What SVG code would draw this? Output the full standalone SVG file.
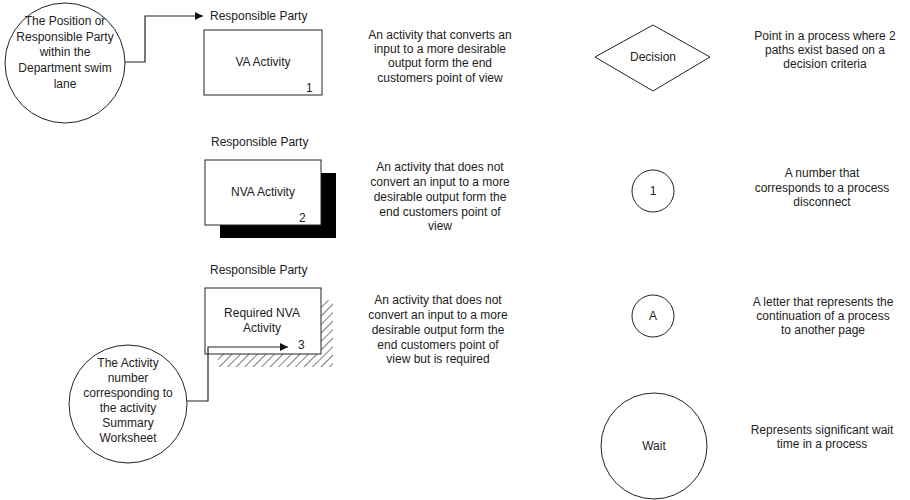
<svg xmlns="http://www.w3.org/2000/svg" width="910" height="500" viewBox="0 0 910 500">
  <style>
    text { font-family: "Liberation Sans", Arial, sans-serif; font-size: 12px; fill: #222; }
    .c { text-anchor: middle; }
    .shape { fill: #fff; stroke: #222; stroke-width: 1; }
    .wire { fill: none; stroke: #222; stroke-width: 1.2; }
  </style>
  <defs>
    <marker id="arrow" viewBox="0 0 10 10" refX="10" refY="5" markerWidth="10" markerHeight="8" markerUnits="userSpaceOnUse" orient="auto">
      <path d="M0,0 L10,5 L0,10 z" fill="#111"/>
    </marker>
    <pattern id="hatch" patternUnits="userSpaceOnUse" width="6" height="6" patternTransform="rotate(45)">
      <line x1="0" y1="0" x2="0" y2="6" stroke="#222" stroke-width="1.2"/>
    </pattern>
  </defs>

  <!-- Responsible party callout -->
  <g id="party-note">
    <circle class="shape" cx="65" cy="63" r="60"/>
    <text class="c" x="65" y="25">The Position or</text>
    <text class="c" x="65" y="41">Responsible Party</text>
    <text class="c" x="65" y="56">within the</text>
    <text class="c" x="65" y="72">Department swim</text>
    <text class="c" x="65" y="88">lane</text>
  </g>

  <!-- VA activity -->
  <g id="va-activity">
    <text x="210" y="20">Responsible Party</text>
    <rect class="shape" x="204" y="30" width="118" height="65"/>
    <text class="c" x="263" y="66">VA Activity</text>
    <text x="306" y="92">1</text>
  </g>
  <g id="va-desc">
    <text class="c" x="440" y="39">An activity that converts an</text>
    <text class="c" x="440" y="53">input to a more desirable</text>
    <text class="c" x="440" y="67">output form the end</text>
    <text class="c" x="440" y="82">customers point of view</text>
  </g>

  <!-- NVA activity -->
  <g id="nva-activity">
    <text x="211" y="146">Responsible Party</text>
    <rect x="220" y="173" width="116" height="65" fill="#000"/>
    <rect class="shape" x="205" y="160" width="116" height="65"/>
    <text class="c" x="263" y="196">NVA Activity</text>
    <text x="299" y="222">2</text>
  </g>
  <g id="nva-desc">
    <text class="c" x="440" y="171">An activity that does not</text>
    <text class="c" x="440" y="186">convert an input to a more</text>
    <text class="c" x="440" y="201">desirable output form the</text>
    <text class="c" x="440" y="216">end customers point of</text>
    <text class="c" x="440" y="230">view</text>
  </g>

  <!-- Required NVA activity -->
  <g id="req-nva-activity">
    <text x="210" y="274">Responsible Party</text>
    <path d="M321,300 L333,300 L333,367 L218,367 L218,354 L321,354 Z" fill="url(#hatch)"/>
    <rect class="shape" x="205" y="288" width="116" height="66"/>
    <text class="c" x="262" y="317">Required NVA</text>
    <text class="c" x="262" y="332">Activity</text>
    <text x="298" y="349">3</text>
  </g>
  <g id="req-nva-desc">
    <text class="c" x="438" y="304">An activity that does not</text>
    <text class="c" x="438" y="319">convert an input to a more</text>
    <text class="c" x="438" y="334">desirable output form the</text>
    <text class="c" x="438" y="349">end customers point of</text>
    <text class="c" x="438" y="363">view but is required</text>
  </g>

  <!-- Activity number callout -->
  <g id="number-note">
    <circle class="shape" cx="128" cy="404" r="59"/>
    <text class="c" x="128" y="367">The Activity</text>
    <text class="c" x="128" y="382">number</text>
    <text class="c" x="128" y="397">corresponding to</text>
    <text class="c" x="128" y="412">the activity</text>
    <text class="c" x="128" y="427">Summary</text>
    <text class="c" x="128" y="442">Worksheet</text>
  </g>

  <!-- Decision -->
  <g id="decision">
    <path class="shape" d="M653,25 L710,57 L653,91 L595,57 Z"/>
    <text class="c" x="653" y="61">Decision</text>
  </g>
  <g id="decision-desc">
    <text class="c" x="825" y="40">Point in a process where 2</text>
    <text class="c" x="825" y="54">paths exist based on a</text>
    <text class="c" x="825" y="68">decision criteria</text>
  </g>

  <!-- Disconnect number -->
  <g id="disconnect">
    <circle class="shape" cx="653" cy="191" r="21"/>
    <text class="c" x="653" y="195">1</text>
  </g>
  <g id="disconnect-desc">
    <text class="c" x="822" y="177">A number that</text>
    <text class="c" x="822" y="192">corresponds to a process</text>
    <text class="c" x="822" y="206">disconnect</text>
  </g>

  <!-- Off-page connector -->
  <g id="off-page">
    <circle class="shape" cx="653" cy="316" r="21"/>
    <text class="c" x="653" y="320">A</text>
  </g>
  <g id="off-page-desc">
    <text class="c" x="823" y="306">A letter that represents the</text>
    <text class="c" x="823" y="320">continuation of a process</text>
    <text class="c" x="823" y="334">to another page</text>
  </g>

  <!-- Wait -->
  <g id="wait">
    <circle class="shape" cx="654" cy="446" r="53"/>
    <text class="c" x="654" y="450">Wait</text>
  </g>
  <g id="wait-desc">
    <text class="c" x="822" y="434">Represents significant wait</text>
    <text class="c" x="822" y="448">time in a process</text>
  </g>

  <!-- Connectors -->
  <g id="connectors">
    <path class="wire" d="M125,62 L145,62 L145,16 L203,16" marker-end="url(#arrow)"/>
    <path class="wire" d="M187,401 L208,401 L208,347 L288,347" marker-end="url(#arrow)"/>
  </g>
</svg>
